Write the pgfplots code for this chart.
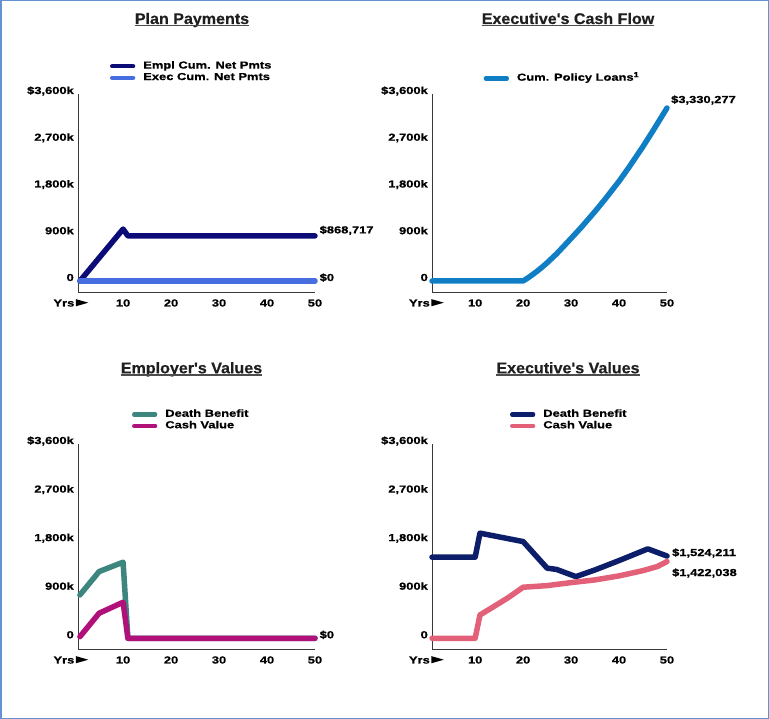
\documentclass[border=0pt]{standalone}
\usepackage{pgfplots}
\pgfplotsset{compat=1.18}
\usepackage{fontspec}
\setmainfont{Liberation Sans}
\newfontfamily\lbl[FakeStretch=1.27,FakeBold=0.8]{Liberation Sans Bold}
\newfontfamily\ttl[FakeStretch=1.04,FakeBold=0.5]{Liberation Sans Bold}
\definecolor{cEmpl}{RGB}{12,12,120}
\definecolor{cExec}{RGB}{70,110,225}
\definecolor{cLoan}{RGB}{16,126,196}
\definecolor{cTeal}{RGB}{61,134,128}
\definecolor{cMag}{RGB}{176,16,122}
\definecolor{cNavy}{RGB}{12,30,105}
\definecolor{cCoral}{RGB}{226,96,120}
\definecolor{cFrame}{RGB}{100,145,210}
\newcommand{\lblf}{\lbl\fontsize{10.2}{12}\selectfont}
\newcommand{\yrs}{Yrs\hspace{1.5bp}\tikz[baseline=0pt]\fill[black] (0bp,0.2bp) -- (0bp,7.4bp) -- (12.5bp,3.8bp) -- cycle;}
\pgfplotsset{
  panel/.style={
    scale only axis, anchor=south west, clip=false,
    axis x line*=bottom, axis y line*=left,
    axis line style={-, draw=black!78, line width=1bp},
    major tick length=0pt,
    xmax=50, ymax=3600,
    xtick={10,20,30,40,50},
    xticklabels={10,20,30,40,50},
    ytick={0,900,1800,2700,3600},
    yticklabels={0,900k,{1,800k},{2,700k},{\$3,600k}},
    xticklabel style={anchor=base, yshift=-13.5bp, inner sep=0pt, font=\lblf},
    yticklabel style={anchor=base east, xshift=-4bp, inner sep=0pt, font=\lblf},
    legend style={draw=none, fill=none, inner sep=0pt, outer sep=0pt,
      anchor=north west, cells={anchor=west},
      nodes={inner sep=0pt, text height=8bp, text depth=3.5bp, font=\lblf},
      column sep=8bp, row sep=0pt},
    legend image code/.code={\draw[line width=4.3bp, line cap=round] (0bp,0bp) -- (21bp,0bp);},
    every axis plot/.append style={line width=5.5bp, line join=round, line cap=round},
  }
}
\begin{document}
\begin{tikzpicture}
\useasboundingbox (0,0) rectangle (769bp,719bp);
\draw[cFrame, line width=1.5bp] (0.75bp,0.75bp) rectangle (768.25bp,718.25bp);

% Titles
\foreach \tx/\ty/\tt in {192/695/{Plan Payments}, 568/695/{Executive's Cash Flow}, 191.5/345.7/{Employer's Values}, 568/345.7/{Executive's Values}}{
  \node[anchor=base, inner sep=0pt, font=\ttl\fontsize{15.5}{18}\selectfont, text=black!88] (T) at (\tx bp,\ty bp) {\tt};
  \draw[black!70, line width=1.2bp] ([yshift=-1.8bp]T.base west) -- ([yshift=-1.8bp]T.base east);
}

% Panel 1: Plan Payments
\begin{axis}[panel, at={(78bp,426bp)}, width=237bp, height=199bp,
  xmin=0.6, ymin=-231,
  legend style={at={(0.135,1.168)}}]
\addplot[cEmpl] coordinates {(1,0) (10,1000) (11,868.717) (50,868.717)};
\addlegendentry{Empl Cum. Net Pmts}
\addplot[cExec] coordinates {(1,0) (50,0)};
\addlegendentry{Exec Cum. Net Pmts}
\node[anchor=base west, inner sep=0pt, font=\lblf, xshift=4.5bp, yshift=2.5bp] at (axis cs:50,868.717) {\$868,717};
\node[anchor=base west, inner sep=0pt, font=\lblf, xshift=4.5bp] at (axis cs:50,0) {\$0};
\node[anchor=base east, inner sep=0pt, font=\lblf, xshift=10.5bp, yshift=-13.5bp] at (rel axis cs:0,0) {\yrs};
\end{axis}

% Panel 2: Executive's Cash Flow
\begin{axis}[panel, at={(432bp,426bp)}, width=235bp, height=199bp,
  xmin=1, ymin=-231,
  legend style={at={(0.22,1.107)}}]
\addplot[cLoan] coordinates {(1,0) (20,0) (21,60) (22,125) (23,195) (24,270) (25,350) (27,525) (30,820) (32,1020) (35,1340) (37,1565) (40,1920) (42,2180) (45,2590) (47,2880) (50,3330.277)};
\addlegendentry{Cum. Policy Loans\textsuperscript{1}}
\node[anchor=base west, inner sep=0pt, font=\lblf, xshift=4bp, yshift=5bp] at (axis cs:50,3330.277) {\$3,330,277};
\node[anchor=base east, inner sep=0pt, font=\lblf, xshift=12bp, yshift=-13.5bp] at (rel axis cs:0,0) {\yrs};
\end{axis}

% Panel 3: Employer's Values
\begin{axis}[panel, at={(78bp,69bp)}, width=237bp, height=206bp,
  xmin=0.6, ymin=-217,
  legend style={at={(0.228,1.171)}}]
\addplot[cTeal] coordinates {(1,803) (5,1236) (10,1410) (11,0) (50,0)};
\addlegendentry{Death Benefit}
\addplot[cMag] coordinates {(1,30) (5,464) (10,668) (11,0) (50,0)};
\addlegendentry{Cash Value}
\node[anchor=base west, inner sep=0pt, font=\lblf, xshift=4.5bp] at (axis cs:50,0) {\$0};
\node[anchor=base east, inner sep=0pt, font=\lblf, xshift=10.5bp, yshift=-13.5bp] at (rel axis cs:0,0) {\yrs};
\end{axis}

% Panel 4: Executive's Values
\begin{axis}[panel, at={(432bp,69bp)}, width=235bp, height=206bp,
  xmin=1, ymin=-217,
  legend style={at={(0.332,1.171)}}]
\addplot[cNavy] coordinates {(1,1503) (10,1503) (11,1948) (20,1792) (25,1300) (27,1275) (31,1143) (35,1267) (40,1440) (46,1657) (50,1524.211)};
\addlegendentry{Death Benefit}
\addplot[cCoral] coordinates {(1,0) (10,0) (11,432) (15,649) (17,760) (20,946) (25,976) (30,1032) (35,1082) (40,1156) (45,1254) (48,1330) (50,1422.038)};
\addlegendentry{Cash Value}
\node[anchor=base west, inner sep=0pt, font=\lblf, xshift=5bp] at (axis cs:50,1524.211) {\$1,524,211};
\node[anchor=base west, inner sep=0pt, font=\lblf, xshift=5bp, yshift=-14.5bp] at (axis cs:50,1422.038) {\$1,422,038};
\node[anchor=base east, inner sep=0pt, font=\lblf, xshift=12bp, yshift=-13.5bp] at (rel axis cs:0,0) {\yrs};
\end{axis}
\end{tikzpicture}
\end{document}
